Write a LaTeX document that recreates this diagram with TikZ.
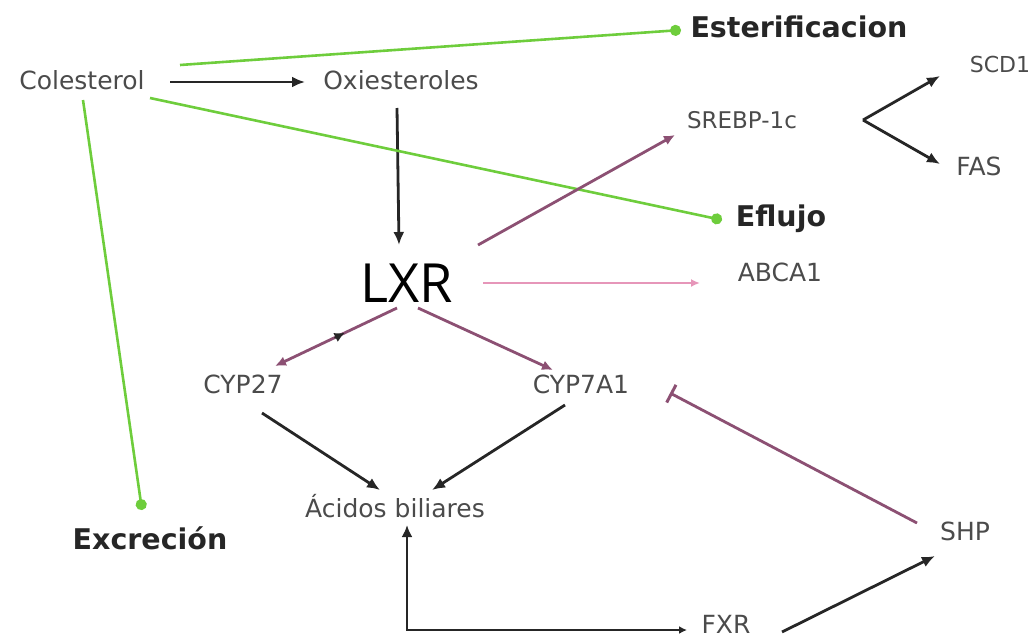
\documentclass[tikz,border=0pt]{standalone}
\usepackage{fontspec}
\setmainfont{DejaVu Sans}
\newfontfamily\lxrfont{Open Sans}
\usetikzlibrary{arrows.meta,calc}
\definecolor{txtgrey}{RGB}{75,75,75}
\definecolor{lgreen}{RGB}{110,205,60}
\definecolor{plum}{RGB}{140,80,115}
\definecolor{lpink}{RGB}{230,150,185}
\tikzset{
  lbl/.style={inner sep=0pt, text=txtgrey, font=\fontsize{25}{29}\selectfont},
  blbl/.style={inner sep=0pt, text=black!85, font=\fontsize{28.5}{33}\selectfont\bfseries},
  blk/.style={draw=black!85, line width=2.8pt, -{Latex[length=13pt,width=11pt]}},
  grn/.style={draw=lgreen, line width=2.6pt, -{Circle[length=11pt,width=11pt]}},
  pur/.style={draw=plum, line width=2.8pt, -{Latex[length=11pt,width=10pt]}},
  pnk/.style={draw=lpink, line width=1.8pt, -{Latex[length=9pt,width=8pt]}},
  inh/.style={draw=plum, line width=2.8pt, -{Bar[width=20pt,line width=3pt]}}
}
\begin{document}
\begin{tikzpicture}[x=1pt,y=-1pt]
\useasboundingbox (0,0) rectangle (1035,640);
% nodes
\node[lbl] (col) at (82,80) {Colesterol};
\node[lbl] (oxi) at (401,80) {Oxiesteroles};
\node[blbl] (est) at (799,27) {Esterificacion};
\node[lbl, font=\fontsize{22}{26}\selectfont] (scd) at (1000,64) {SCD1};
\node[lbl, font=\fontsize{23}{27}\selectfont] (sre) at (742,120) {SREBP-1c};
\node[lbl] (fas) at (979,166) {FAS};
\node[blbl] (efl) at (781,219) {Eflujo};
\node[lbl] (abc) at (780,272) {ABCA1};
\node[inner sep=0pt, font=\lxrfont\fontsize{54}{60}\selectfont] (lxr) at (407,283) {LXR};
\node[lbl] (c27) at (243,384) {CYP27};
\node[lbl] (c7) at (581,384) {CYP7A1};
\node[lbl] (aci) at (395,506) {Ácidos biliares};
\node[blbl] (exc) at (150,538) {Excreción};
\node[lbl] (shp) at (965,531) {SHP};
\node[lbl] (fxr) at (726,624) {FXR};
\coordinate (fork) at (863,120);
\coordinate (corner) at (407,630);
% black arrows
\draw[blk] ([shift={(88,2)}]col.center) -- ([shift={(-96,2)}]oxi.center);
\draw[blk] ([shift={(-4,28)}]oxi.center) -- ([shift={(-8,-38)}]lxr.center);
\draw[blk] (fork) -- ([shift={(-60,12)}]scd.center);
\draw[blk] (fork) -- ([shift={(-39,-2)}]fas.center);
\draw[blk] ([shift={(19,29)}]c27.center) -- ([shift={(-15,-16)}]aci.center);
\draw[blk] ([shift={(-16,21)}]c7.center) -- ([shift={(37,-16)}]aci.center);
\draw[blk, {Latex[length=12pt,width=11pt]}-{Latex[length=8pt,width=8pt]}] ([shift={(12,19)}]aci.center) -- (corner) -- ([shift={(-39,6)}]fxr.center);
\draw[blk] ([shift={(56,8)}]fxr.center) -- ([shift={(-30,25)}]shp.center);
% green arrows
\draw[grn] ([shift={(98,-15)}]col.center) -- ([shift={(-118,3)}]est.center);
\draw[grn] ([shift={(68,18)}]col.center) -- ([shift={(-59,1)}]efl.center);
\draw[grn] ([shift={(1,20)}]col.center) -- ([shift={(-8,-28)}]exc.center);
% purple
\draw[pur] ([shift={(71,-38)}]lxr.center) -- ([shift={(-67,15)}]sre.center);
\draw[pnk] ([shift={(76,0)}]lxr.center) -- ([shift={(-80,11)}]abc.center);
\draw[pur] ([shift={(-10,25)}]lxr.center) -- ([shift={(32,-18)}]c27.center);
\draw[pur] ([shift={(11,25)}]lxr.center) -- ([shift={(-28,-14)}]c7.center);
\draw[inh] ([shift={(-48,-8)}]shp.center) -- ([shift={(89,9)}]c7.center);
% black mark on LXR-CYP27
\path ([shift={(-10,25)}]lxr.center) -- coordinate[pos=0.43] (mid) ([shift={(32,-18)}]c27.center);
\draw[black!85, line width=1.5pt, -{Latex[length=10pt,width=10pt]}] ($(mid)+(-10,5)$) -- (mid);
\end{tikzpicture}
\end{document}
